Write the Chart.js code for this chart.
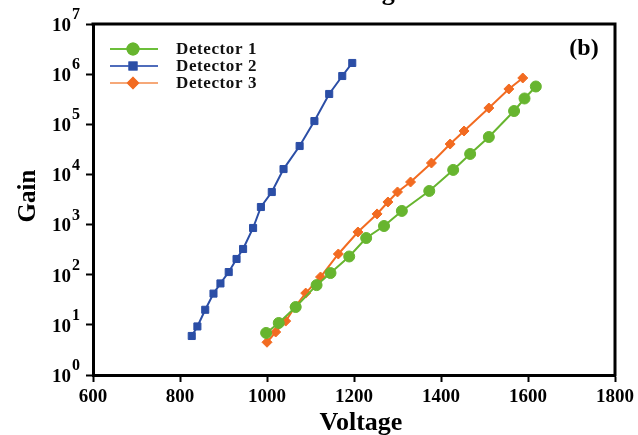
<!DOCTYPE html>
<html>
<head>
<meta charset="utf-8">
<script src="https://cdn.jsdelivr.net/npm/chart.js@4.4.1/dist/chart.umd.min.js"></script>
<style>
  html, body { margin: 0; padding: 0; background: #fff; }
  canvas { display: block; }
</style>
</head>
<body>
<canvas id="gainChart" width="638" height="435"></canvas>
<script>
// Values
const det1Voltage = [998, 1027, 1066, 1114, 1146, 1189, 1228, 1269, 1310, 1373, 1428, 1467, 1510, 1568, 1592, 1618];
const det1Gain = [6.9, 10.9, 22.7, 62, 108, 231, 540, 937, 1870, 4680, 12300, 25600, 55800, 184000, 327000, 567000];

const det2Voltage = [827, 840, 858, 877, 893, 912, 930, 945, 968, 986, 1011, 1038, 1075, 1109, 1143, 1173, 1196];
const det2Gain = [6.0, 9.3, 20, 42, 67, 113, 206, 326, 855, 2240, 4460, 12800, 36900, 116000, 402000, 918000, 1670000];

const det3Voltage = [1000, 1020, 1043, 1064, 1089, 1123, 1164, 1209, 1253, 1278, 1300, 1330, 1378, 1421, 1453, 1510, 1556, 1588];
const det3Gain = [4.5, 7.2, 11.9, 22.7, 43, 90, 259, 711, 1630, 2820, 4470, 7060, 16900, 40400, 73500, 211000, 506000, 838000];

const xTickValues = [600, 800, 1000, 1200, 1400, 1600, 1800];
const yTickExponents = [0, 1, 2, 3, 4, 5, 6, 7];

const seriesNames = ['Detector 1', 'Detector 2', 'Detector 3'];

const SERIF = '"Liberation Serif", "DejaVu Serif", serif';

function toPoints(xs, ys) {
    return xs.map(function(v, i) { return { x: v, y: ys[i] }; });
}

// legend line colours are a bit lighter than the marks
const legendLineColors = ['#6cbf3a', '#4f6cbb', '#f6a878'];

const overlay = {
    id: 'overlay',
    afterDraw: function(chart) {
        const ctx = chart.ctx;
        const a = chart.chartArea;
        const y = chart.scales.y;
        ctx.save();

        // top and right frame
        ctx.strokeStyle = '#000';
        ctx.lineWidth = 3;
        ctx.beginPath();
        ctx.moveTo(a.left - 1.5, a.top);
        ctx.lineTo(a.right, a.top);
        ctx.lineTo(a.right, a.bottom + 1.5);
        ctx.stroke();

        // y tick labels with superscript powers
        ctx.fillStyle = '#000';
        yTickExponents.forEach(function(k) {
            const py = y.getPixelForValue(Math.pow(10, k));
            ctx.font = 'bold 19px ' + SERIF;
            ctx.textAlign = 'right';
            ctx.textBaseline = 'middle';
            ctx.fillText('10', 71, py + 2);
            ctx.font = 'bold 16px ' + SERIF;
            ctx.textAlign = 'left';
            ctx.fillText(String(k), 72, py - 9);
        });

        // axis titles
        ctx.font = 'bold 26px ' + SERIF;
        ctx.textAlign = 'center';
        ctx.textBaseline = 'alphabetic';
        ctx.fillText('Voltage', 361, 430);
        ctx.fillText('Voltage', 365, 0); // tail of the panel above

        ctx.save();
        ctx.translate(35, 196);
        ctx.rotate(-Math.PI / 2);
        ctx.font = 'bold 25px ' + SERIF;
        ctx.fillText('Gain', 0, 0);
        ctx.restore();

        // panel label
        ctx.font = 'bold 24px ' + SERIF;
        ctx.textAlign = 'center';
        ctx.textBaseline = 'middle';
        ctx.fillText('(b)', 584, 49);

        // legend: line with marker, then name
        chart.data.datasets.forEach(function(ds, i) {
            const ly = 49 + i * 17;
            ctx.strokeStyle = legendLineColors[i];
            ctx.lineWidth = 2;
            ctx.beginPath();
            ctx.moveTo(110, ly);
            ctx.lineTo(158, ly);
            ctx.stroke();
            Chart.helpers.drawPoint(ctx, {
                pointStyle: ds.pointStyle,
                radius: ds.pointRadius,
                borderWidth: 1,
                rotation: 0
            }, 133, ly);
            ctx.fillStyle = ds.backgroundColor;
            ctx.strokeStyle = ds.borderColor;
            ctx.fill();
            ctx.stroke();

            ctx.fillStyle = '#111';
            ctx.font = 'bold 17px ' + SERIF;
            ctx.letterSpacing = '0.6px';
            ctx.textAlign = 'left';
            ctx.textBaseline = 'middle';
            ctx.fillText(seriesNames[i], 176, ly + 1);
            ctx.letterSpacing = '0px';
        });

        ctx.restore();
    }
};

new Chart(document.getElementById('gainChart').getContext('2d'), {
    type: 'line',
    data: {
        datasets: [{
            label: seriesNames[0],
            data: toPoints(det1Voltage, det1Gain),
            borderColor: '#67b52f',
            backgroundColor: '#67b52f',
            borderWidth: 2,
            pointStyle: 'circle',
            pointRadius: 5.5,
            pointBorderWidth: 1
        }, {
            label: seriesNames[1],
            data: toPoints(det2Voltage, det2Gain),
            borderColor: '#2b4ea6',
            backgroundColor: '#2b4ea6',
            borderWidth: 2,
            pointStyle: 'rect',
            pointRadius: 5,
            pointBorderWidth: 1
        }, {
            label: seriesNames[2],
            data: toPoints(det3Voltage, det3Gain),
            borderColor: '#f26b21',
            backgroundColor: '#f26b21',
            borderWidth: 2,
            pointStyle: 'rectRot',
            pointRadius: 5,
            pointBorderWidth: 1
        }]
    },
    options: {
        responsive: false,
        animation: false,
        devicePixelRatio: 1,
        layout: {
            padding: { left: 0, top: 24, right: 18, bottom: 0 }
        },
        plugins: {
            legend: { display: false },
            tooltip: { enabled: false }
        },
        elements: {
            line: { tension: 0 }
        },
        scales: {
            x: {
                type: 'linear',
                min: 600,
                max: 1800,
                afterBuildTicks: function(scale) {
                    scale.ticks = xTickValues.map(function(v) { return { value: v }; });
                },
                afterFit: function(scale) { scale.height = 60; },
                grid: {
                    display: true,
                    drawOnChartArea: false,
                    drawTicks: true,
                    tickLength: 7,
                    tickWidth: 2,
                    tickColor: '#000'
                },
                border: { display: true, width: 3, color: '#000' },
                ticks: {
                    color: '#000',
                    padding: 4,
                    maxRotation: 0,
                    font: { family: SERIF, size: 19, weight: 'bold' },
                    callback: function(value) { return String(value); }
                }
            },
            y: {
                type: 'logarithmic',
                min: 1,
                max: 1e7,
                afterBuildTicks: function(scale) {
                    scale.ticks = yTickExponents.map(function(k) { return { value: Math.pow(10, k) }; });
                },
                afterFit: function(scale) { scale.width = 93; },
                grid: {
                    display: true,
                    drawOnChartArea: false,
                    drawTicks: true,
                    tickLength: 7,
                    tickWidth: 2,
                    tickColor: '#000'
                },
                border: { display: true, width: 3, color: '#000' },
                ticks: {
                    callback: function() { return ''; }
                }
            }
        }
    },
    plugins: [overlay]
});
</script>
</body>
</html>
